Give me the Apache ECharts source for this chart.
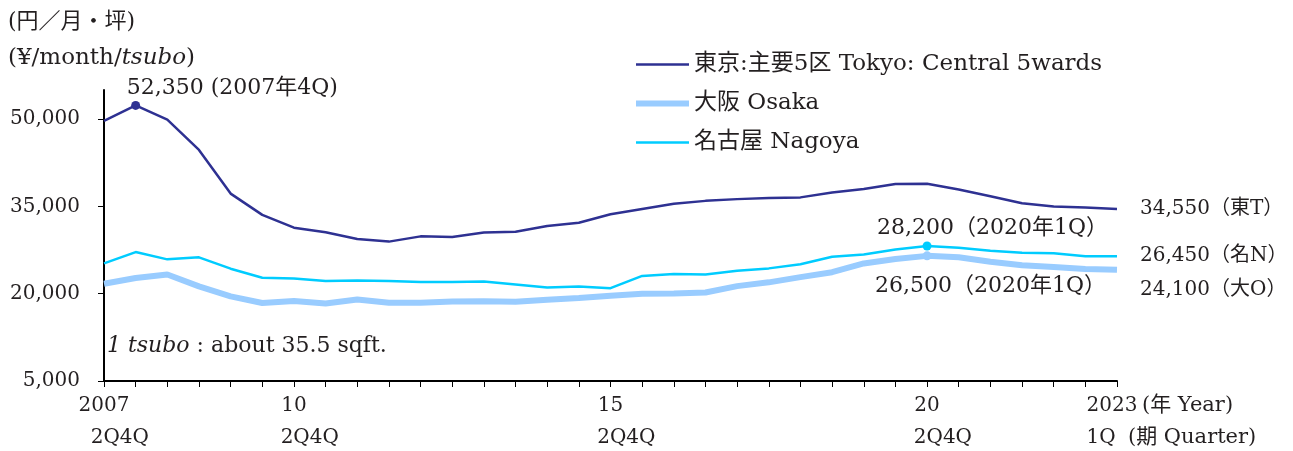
<!DOCTYPE html>
<html>
<head>
<meta charset="utf-8">
<script src="https://cdn.jsdelivr.net/npm/echarts@6/dist/echarts.min.js"></script>
<style>
  html, body { margin: 0; padding: 0; background: #fff; }
  #main { width: 1293px; height: 451px; }
</style>
</head>
<body>
<div id="main"></div>
<script>
// half-year points, 2007 to 2023 1Q
var halfYears = [
  '2007-1', '2007-2', '2008-1', '2008-2', '2009-1', '2009-2', '2010-1', '2010-2',
  '2011-1', '2011-2', '2012-1', '2012-2', '2013-1', '2013-2', '2014-1', '2014-2',
  '2015-1', '2015-2', '2016-1', '2016-2', '2017-1', '2017-2', '2018-1', '2018-2',
  '2019-1', '2019-2', '2020-1', '2020-2', '2021-1', '2021-2', '2022-1', '2022-2',
  '2023-1'
];
var yearTicks = { '2007-1': '2007', '2010-1': '10', '2015-1': '15', '2020-1': '20', '2023-1': '{l|2023}' };
var quarterTicks = { 0: '2Q4Q', 6: '2Q4Q', 16: '2Q4Q', 26: '2Q4Q', 31: '1Q' };

var tokyo = [49700, 52350, 49900, 44700, 37200, 33550, 31350, 30550, 29400, 28950, 29850,
  29750, 30500, 30650, 31650, 32200, 33650, 34550, 35450, 35950, 36250, 36450, 36550,
  37400, 38000, 38850, 38900, 37900, 36750, 35550, 35000, 34800, 34550];
var osaka = [21700, 22700, 23300, 21250, 19550, 18400, 18750, 18300, 19000, 18450, 18450,
  18650, 18700, 18600, 18950, 19250, 19650, 20000, 20050, 20200, 21300, 21950, 22850,
  23700, 25200, 25950, 26500, 26250, 25500, 24900, 24600, 24250, 24100];
var nagoya = [25200, 27150, 25900, 26250, 24300, 22750, 22600, 22200, 22250, 22200, 22000,
  22000, 22100, 21600, 21050, 21250, 20950, 23050, 23400, 23300, 23950, 24350, 25050,
  26350, 26750, 27600, 28200, 27900, 27400, 27050, 26950, 26450, 26450];

var FONT = '"DejaVu Serif", "Noto Sans CJK JP", serif';
var INK = '#231f20';

function fmt(v) { return v.toLocaleString('en-US'); }

var myChart = echarts.init(document.getElementById('main'));
myChart.setOption({
  animation: false,
  textStyle: { fontFamily: FONT, color: INK },
  grid: { left: 104, right: 176, top: 90, bottom: 70 },
  legend: {
    orient: 'vertical',
    left: 633,
    top: 53,
    padding: 0,
    itemWidth: 53,
    itemHeight: 14,
    itemGap: 16,
    textStyle: { fontFamily: FONT, fontSize: 23, color: INK },
    itemStyle: { opacity: 0 },
    data: [
      { name: '東京:主要5区 Tokyo: Central 5wards', lineStyle: { width: 2.5 } },
      { name: '大阪 Osaka', lineStyle: { width: 6 } },
      { name: '名古屋 Nagoya', lineStyle: { width: 2.5 } }
    ]
  },
  xAxis: [
    {
      type: 'category',
      data: halfYears,
      boundaryGap: false,
      axisLine: { show: true, lineStyle: { color: '#000', width: 2 } },
      axisTick: { show: true, inside: false, length: 6, interval: 0, lineStyle: { color: '#000' } },
      axisLabel: {
        interval: 0,
        margin: 15,
        fontSize: 20,
        fontFamily: FONT,
        color: INK,
        rich: { l: { fontSize: 20, fontFamily: FONT, color: INK, padding: [0, 10, 0, 0] } },
        formatter: function (v) { return yearTicks[v] || ''; }
      }
    },
    {
      type: 'category',
      data: halfYears.slice(0, 32),
      boundaryGap: true,
      position: 'bottom',
      offset: 33,
      axisLine: { show: false },
      axisTick: { show: false },
      axisLabel: {
        interval: 0,
        margin: 14,
        fontSize: 20,
        fontFamily: FONT,
        color: INK,
        formatter: function (v, i) { return quarterTicks[i] || ''; }
      }
    }
  ],
  yAxis: {
    type: 'value',
    min: 5000,
    max: 55000,
    interval: 15000,
    splitLine: { show: false },
    axisLine: { show: true, lineStyle: { color: '#000', width: 2 } },
    axisTick: { show: true, inside: false, length: 6, lineStyle: { color: '#000' } },
    axisLabel: {
      margin: 24,
      fontSize: 20,
      fontFamily: FONT,
      color: INK,
      showMaxLabel: false,
      formatter: function (v) { return v > 50000 ? '' : fmt(v); }
    }
  },
  graphic: [
    {
      type: 'text', left: 8, top: 11,
      style: { text: '(円／月・坪)', font: '22px ' + FONT, fill: INK }
    },
    {
      type: 'text', left: 8, top: 47,
      style: {
        text: '{a|(¥/month/}{i|tsubo}{a|)}',
        rich: {
          a: { fontFamily: FONT, fontSize: 23, fill: INK },
          i: { fontFamily: FONT, fontSize: 23, fontStyle: 'italic', fill: INK }
        }
      }
    },
    {
      type: 'text', left: 107, top: 335,
      style: {
        text: '{i|1 tsubo}{a| : about 35.5 sqft.}',
        rich: {
          a: { fontFamily: FONT, fontSize: 22, fill: INK },
          i: { fontFamily: FONT, fontSize: 22, fontStyle: 'italic', fill: INK }
        }
      }
    },
    {
      type: 'text', left: 1142, top: 395,
      style: { text: '(年 Year)', font: '21px ' + FONT, fill: INK }
    },
    {
      type: 'text', left: 1128, top: 427,
      style: { text: '(期 Quarter)', font: '21px ' + FONT, fill: INK }
    }
  ],
  series: [
    {
      name: '東京:主要5区 Tokyo: Central 5wards',
      type: 'line',
      data: tokyo,
      symbol: 'none',
      z: 3,
      lineStyle: { color: '#2e3192', width: 2.5 },
      itemStyle: { color: '#2e3192' },
      endLabel: {
        show: true, distance: 23, fontSize: 20, fontFamily: FONT, color: INK,
        formatter: function (p) { return fmt(p.value) + '（東T）'; }
      },
      markPoint: {
        symbol: 'circle',
        symbolSize: 9,
        itemStyle: { color: '#2e3192' },
        label: {
          show: true, position: 'top', align: 'left', offset: [-9, 0], distance: 2,
          fontSize: 22, fontFamily: FONT, color: INK,
          formatter: function (p) { return fmt(p.value) + ' (2007年4Q)'; }
        },
        data: [{ coord: [halfYears[1], tokyo[1]], value: tokyo[1] }]
      }
    },
    {
      name: '大阪 Osaka',
      type: 'line',
      data: osaka,
      symbol: 'none',
      z: 2,
      lineStyle: { color: '#99ccff', width: 6 },
      itemStyle: { color: '#99ccff' },
      endLabel: {
        show: true, distance: 23, offset: [0, 20], fontSize: 20, fontFamily: FONT, color: INK,
        formatter: function (p) { return fmt(p.value) + '（大O）'; }
      },
      markPoint: {
        symbol: 'circle',
        symbolSize: 9,
        itemStyle: { color: '#99ccff' },
        label: {
          show: true, position: 'bottom', align: 'left', offset: [-52, 10],
          fontSize: 22, fontFamily: FONT, color: INK,
          formatter: function (p) { return fmt(p.value) + '（2020年1Q）'; }
        },
        data: [{ coord: [halfYears[26], osaka[26]], value: osaka[26] }]
      }
    },
    {
      name: '名古屋 Nagoya',
      type: 'line',
      data: nagoya,
      symbol: 'none',
      z: 3,
      lineStyle: { color: '#00ccff', width: 2.5 },
      itemStyle: { color: '#00ccff' },
      endLabel: {
        show: true, distance: 23, fontSize: 20, fontFamily: FONT, color: INK,
        formatter: function (p) { return fmt(p.value) + '（名N）'; }
      },
      markPoint: {
        symbol: 'circle',
        symbolSize: 9,
        itemStyle: { color: '#00ccff' },
        label: {
          show: true, position: 'top', align: 'left', offset: [-50, 0], distance: 2,
          fontSize: 22, fontFamily: FONT, color: INK,
          formatter: function (p) { return fmt(p.value) + '（2020年1Q）'; }
        },
        data: [{ coord: [halfYears[26], nagoya[26]], value: nagoya[26] }]
      }
    }
  ]
});
</script>
</body>
</html>
